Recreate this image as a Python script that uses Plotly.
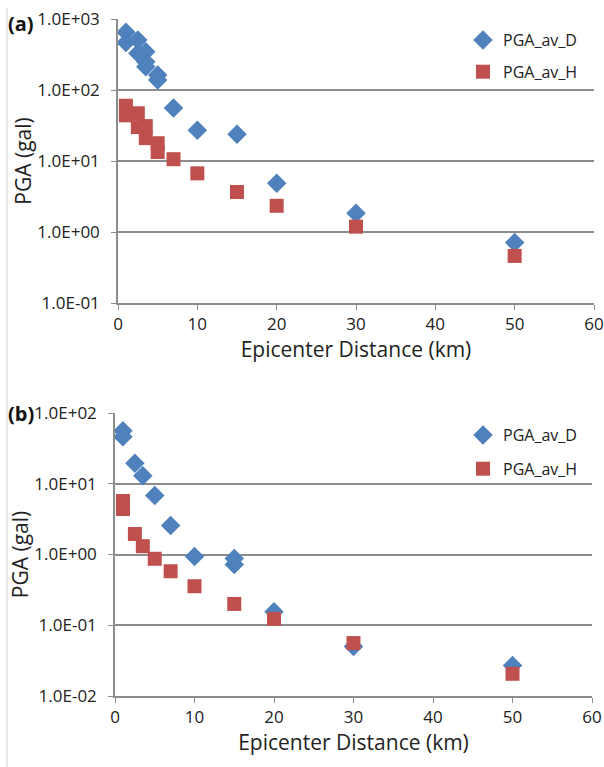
import plotly.graph_objects as go

# ---------------- data ----------------
# Panel (a)
a_D_x = [1, 1, 2.5, 2.5, 3.5, 3.5, 3.5, 5, 5, 7, 10, 15, 20, 30, 50]
a_D_y = [650, 466, 506, 330, 346, 250, 213, 163, 138, 56, 27, 23.8, 4.85, 1.83, 0.71]
a_H_x = [1, 1, 2.5, 2.5, 3.5, 3.5, 5, 5, 7, 10, 15, 20, 30, 50]
a_H_y = [60, 44, 47, 30, 31, 21, 17.8, 13.4, 10.6, 6.7, 3.66, 2.34, 1.19, 0.46]

# Panel (b)
b_D_x = [1, 1, 2.5, 3.5, 5, 7, 10, 15, 15, 20, 30, 50]
b_D_y = [56, 46, 19.5, 13, 6.8, 2.57, 0.94, 0.88, 0.72, 0.155, 0.050, 0.027]
b_H_x = [1, 1, 2.5, 3.5, 5, 7, 10, 15, 20, 30, 50]
b_H_y = [5.7, 4.4, 1.95, 1.31, 0.87, 0.58, 0.356, 0.20, 0.123, 0.056, 0.0206]

series_names = ["PGA_av_D", "PGA_av_H"]
x_ticks = [0, 10, 20, 30, 40, 50, 60]
a_y_tickvals = [0.1, 1, 10, 100, 1000]
a_y_ticktext = ["1.0E-01", "1.0E+00", "1.0E+01", "1.0E+02", "1.0E+03"]
b_y_tickvals = [0.01, 0.1, 1, 10, 100]
b_y_ticktext = ["1.0E-02", "1.0E-01", "1.0E+00", "1.0E+01", "1.0E+02"]
x_title = "Epicenter Distance (km)"
y_title = "PGA (gal)"
panel_labels = ["(a)", "(b)"]

# ---------------- style ----------------
W, H = 604, 767
FONT = "Open Sans"
BLUE = "#4F81BD"
RED = "#C0504D"
GRID = "#8c8c8c"
TXT = "#222222"

def px_x(p):
    return p / W

def px_y(p):
    return 1 - p / H

fig = go.Figure()

fig.add_trace(go.Scatter(x=a_D_x, y=a_D_y, mode="markers", name=series_names[0],
                         marker=dict(symbol="diamond", size=15, color=BLUE),
                         xaxis="x", yaxis="y", legend="legend", legendgroup="aD"))
fig.add_trace(go.Scatter(x=a_H_x, y=a_H_y, mode="markers", name=series_names[1],
                         marker=dict(symbol="square", size=14, color=RED),
                         xaxis="x", yaxis="y", legend="legend", legendgroup="aH"))
fig.add_trace(go.Scatter(x=b_D_x, y=b_D_y, mode="markers", name=series_names[0],
                         marker=dict(symbol="diamond", size=15, color=BLUE),
                         xaxis="x2", yaxis="y2", legend="legend2", legendgroup="bD"))
fig.add_trace(go.Scatter(x=b_H_x, y=b_H_y, mode="markers", name=series_names[1],
                         marker=dict(symbol="square", size=14, color=RED),
                         xaxis="x2", yaxis="y2", legend="legend2", legendgroup="bH"))

xcommon = dict(range=[0, 60], tickvals=x_ticks, showgrid=False, zeroline=False, automargin=False,
               showline=True, linecolor=GRID, linewidth=1.5, ticks="outside",
               ticklen=5, tickcolor=GRID, tickfont=dict(family=FONT, size=17, color=TXT),
               title=dict(text=x_title, font=dict(family=FONT, size=21, color=TXT), standoff=6))
ycommon = dict(type="log", showgrid=True, gridcolor=GRID, gridwidth=1.5, zeroline=False, automargin=False,
               showline=True, linecolor=GRID, linewidth=1.5, ticks="outside",
               ticklen=5, tickcolor=GRID, ticklabelstandoff=8,
               tickfont=dict(family=FONT, size=17, color=TXT),
               title=dict(text=y_title, font=dict(family=FONT, size=21, color=TXT), standoff=0))

fig.update_layout(
    width=W, height=H,
    margin=dict(l=0, r=0, t=0, b=0, autoexpand=False),
    paper_bgcolor="white", plot_bgcolor="white",
    xaxis=dict(domain=[px_x(118), px_x(594)], anchor="y", **xcommon),
    yaxis=dict(domain=[px_y(303), px_y(19)], anchor="x", range=[-1, 3],
               tickvals=a_y_tickvals, ticktext=a_y_ticktext, **ycommon),
    xaxis2=dict(domain=[px_x(115), px_x(592)], anchor="y2", **xcommon),
    yaxis2=dict(domain=[px_y(696), px_y(413)], anchor="x2", range=[-2, 2],
                tickvals=b_y_tickvals, ticktext=b_y_ticktext, **ycommon),
    legend=dict(x=px_x(583), xanchor="right", y=px_y(23), yanchor="top",
                bgcolor="rgba(0,0,0,0)", font=dict(family=FONT, size=16, color=TXT),
                tracegroupgap=8, itemwidth=30),
    legend2=dict(x=px_x(583), xanchor="right", y=px_y(418), yanchor="top",
                 bgcolor="rgba(0,0,0,0)", font=dict(family=FONT, size=16, color=TXT),
                 tracegroupgap=10, itemwidth=30),
    showlegend=True,
)

fig.add_annotation(text="<b>" + panel_labels[0] + "</b>", x=px_x(6), y=px_y(24), xref="paper", yref="paper",
                   xanchor="left", yanchor="middle", showarrow=False,
                   font=dict(family=FONT, size=20, color="#111111"))
fig.add_annotation(text="<b>" + panel_labels[1] + "</b>", x=px_x(6), y=px_y(414), xref="paper", yref="paper",
                   xanchor="left", yanchor="middle", showarrow=False,
                   font=dict(family=FONT, size=20, color="#111111"))

# thin frame line on the left edge of the figure
fig.add_shape(type="line", xref="paper", yref="paper", x0=px_x(7), x1=px_x(7), y0=0, y1=px_y(8),
              line=dict(color="#cccccc", width=1))

fig.write_html("out.html", config={"displayModeBar": False},
               post_script="document.body.style.margin='0';document.body.style.padding='0';")
